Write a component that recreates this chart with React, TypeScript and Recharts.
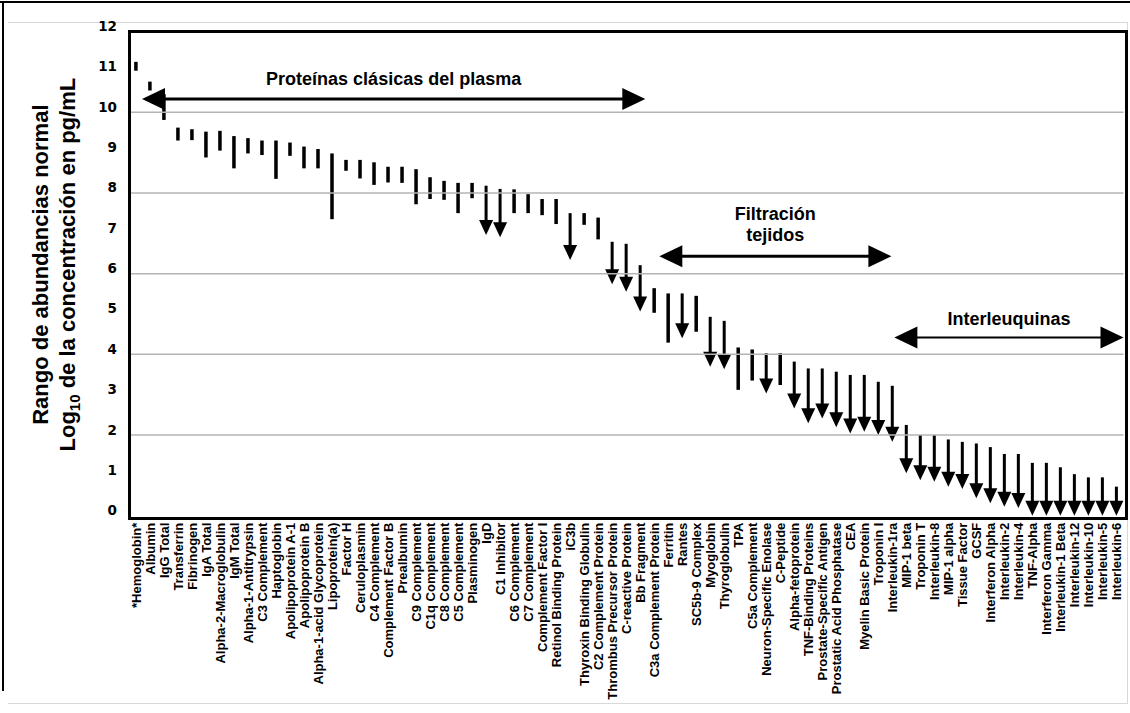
import React from "react";
import { Bar, ComposedChart, ReferenceLine, XAxis, YAxis } from "recharts";

const proteins = [
  "*Hemoglobin*", "Albumin", "IgG Total", "Transferrin", "Fibrinogen", "IgA Total",
  "Alpha-2-Macroglobulin", "IgM Total", "Alpha-1-Antitrypsin", "C3 Complement", "Haptoglobin",
  "Apolipoprotein A-1", "Apolipoprotein B", "Alpha-1-acid Glycoprotein", "Lipoprotein(a)", "Factor H",
  "Ceruloplasmin", "C4 Complement", "Complement Factor B", "Prealbumin", "C9 Complement",
  "C1q Complement", "C8 Complement", "C5 Complement", "Plasminogen", "IgD", "C1 Inhibitor",
  "C6 Complement", "C7 Complement", "Complement Factor I", "Retinol Binding Protein", "iC3b",
  "Thyroxin Binding Globulin", "C2 Complement Protein", "Thrombus Precursor Protein",
  "C-reactive Protein", "Bb Fragment", "C3a Complement Protein", "Ferritin", "Rantes",
  "SC5b-9 Complex", "Myoglobin", "Thyroglobulin", "TPA", "C5a Complement",
  "Neuron-Specific Enolase", "C-Peptide", "Alpha-fetoprotein", "TNF-Binding Proteins",
  "Prostate-Specific Antigen", "Prostatic Acid Phosphatase", "CEA", "Myelin Basic Protein",
  "Troponin I", "Interleukin-1ra", "MIP-1 beta", "Troponin T", "Interleukin-8", "MIP-1 alpha",
  "Tissue Factor", "GCSF", "Interferon Alpha", "Interleukin-2", "Interleukin-4", "TNF-Alpha",
  "Interferon Gamma", "Interleukin-1 Beta", "Interleukin-12", "Interleukin-10", "Interleukin-5",
  "Interleukin-6",
];

// log10 pg/mL, upper end of the normal range
const highs = [
  11.25, 10.76, 10.45, 9.62, 9.58, 9.52, 9.54, 9.41, 9.36, 9.3,
  9.3, 9.25, 9.15, 9.09, 8.98, 8.82, 8.82, 8.76, 8.65, 8.65,
  8.59, 8.39, 8.3, 8.25, 8.25, 8.18, 8.1, 8.09, 7.97, 7.85,
  7.85, 7.5, 7.5, 7.39, 6.79, 6.74, 6.21, 5.64, 5.51, 5.51,
  5.45, 4.93, 4.83, 4.17, 4.12, 4.03, 4.03, 3.82, 3.65, 3.65,
  3.57, 3.49, 3.49, 3.32, 3.22, 2.25, 2.0, 2.0, 1.89, 1.83,
  1.79, 1.7, 1.53, 1.53, 1.31, 1.31, 1.2, 1.03, 0.95, 0.95, 0.72,
];

// lower end (or detection limit when drawn as an arrow)
const lows = [
  11.03, 10.54, 9.81, 9.3, 9.31, 8.88, 9.05, 8.61, 8.98, 8.94,
  8.35, 8.92, 8.61, 8.61, 7.35, 8.55, 8.36, 8.2, 8.26, 8.25,
  7.72, 7.85, 7.83, 7.5, 7.87, 6.96, 6.9, 7.5, 7.5, 7.45,
  7.23, 6.34, 7.21, 6.85, 5.74, 5.55, 5.06, 5.03, 4.29, 4.4,
  4.56, 3.69, 3.63, 3.12, 3.35, 3.03, 3.24, 2.66, 2.29, 2.41,
  2.19, 2.04, 2.08, 2.0, 1.83, 1.05, 0.88, 0.84, 0.72, 0.66,
  0.43, 0.31, 0.22, 0.19, 0, 0, 0, 0, 0, 0, 0,
];

const openEnded = [
  "IgD", "C1 Inhibitor", "iC3b", "Thrombus Precursor Protein", "C-reactive Protein", "Bb Fragment",
  "Rantes", "Myoglobin", "Thyroglobulin", "Neuron-Specific Enolase", "Alpha-fetoprotein",
  "TNF-Binding Proteins", "Prostate-Specific Antigen", "Prostatic Acid Phosphatase", "CEA",
  "Myelin Basic Protein", "Troponin I", "Interleukin-1ra", "MIP-1 beta", "Troponin T",
  "Interleukin-8", "MIP-1 alpha", "Tissue Factor", "GCSF", "Interferon Alpha", "Interleukin-2",
  "Interleukin-4", "TNF-Alpha", "Interferon Gamma", "Interleukin-1 Beta", "Interleukin-12",
  "Interleukin-10", "Interleukin-5", "Interleukin-6",
];

const yTicks = [0, 1, 2, 3, 4, 5, 6, 7, 8, 9, 10, 11, 12];
const gridValues = [2, 4, 6, 8, 10];

// spans in category-index units (bar centres sit on integers)
const groups = [
  { lines: ["Proteínas clásicas del plasma"], from: 0.43, to: 36.36, level: 10.33, offsets: [-14], width: 3 },
  { lines: ["Filtración", "tejidos"], from: 37.36, to: 53.93, level: 6.43, offsets: [-36, -15], width: 3 },
  { lines: ["Interleuquinas"], from: 54.14, to: 70.5, level: 4.42, offsets: [-12], width: 2 },
];

const data = proteins.map((name, i) => ({
  name,
  pos: i,
  range: [lows[i], highs[i]],
  arrow: openEnded.includes(name),
}));

const FONT = "'Liberation Sans', Arial, sans-serif";
const PLOT = { left: 129, top: 31.6, right: 1123.5, bottom: 515.7 };

function RangeMark(props: any) {
  const { x, y, width, height, payload } = props;
  const top = Math.min(y, y + height);
  const h = Math.abs(height);
  const cx = x + width / 2;
  const bottom = top + h;
  if (!payload.arrow) {
    return <rect x={cx - 1.75} y={top} width={3.5} height={h} fill="#000" />;
  }
  const head = 15;
  return (
    <g>
      <rect x={cx - 1.5} y={top} width={3} height={Math.max(0, h - head + 2)} fill="#000" />
      <polygon points={`${cx - 7},${bottom - head} ${cx + 7},${bottom - head} ${cx},${bottom}`} fill="#000" />
    </g>
  );
}

function XTick({ x, y, payload }: any) {
  return (
    <text
      transform={`translate(${x},${y + 7}) rotate(-90)`}
      textAnchor="end"
      dy="0.36em"
      fontSize={13}
      fontWeight="bold"
      fontFamily={FONT}
      fill="#000"
    >
      {payload.value}
    </text>
  );
}

function YTick({ x, y, payload }: any) {
  return (
    <text x={x} y={y} dy={-0.5} textAnchor="end" fontSize={13.5} fontWeight="bold" fontFamily="'DejaVu Sans', Verdana, sans-serif" fill="#000">
      {payload.value}
    </text>
  );
}

function YTitle({ viewBox }: any) {
  const cy = viewBox.y + viewBox.height / 2 - 9;
  const x1 = viewBox.x - 41;
  const x2 = viewBox.x - 14;
  const common = { fontSize: 22, fontWeight: "bold" as const, fontFamily: FONT, fill: "#000", textAnchor: "middle" as const };
  return (
    <g>
      <text {...common} transform={`translate(${x1},${cy}) rotate(-90)`}>Rango de abundancias normal</text>
      <text {...common} transform={`translate(${x2},${cy}) rotate(-90)`}>
        Log<tspan fontSize={15} dy={5}>10</tspan>
        <tspan dy={-5}> de la concentración en pg/mL</tspan>
      </text>
    </g>
  );
}

function groupShape(g: (typeof groups)[number]) {
  return (p: any) => {
    const { x1, y1, x2 } = p;
    const len = 23;
    const half = 11;
    const mid = (x1 + x2) / 2;
    return (
      <g>
        <line x1={x1 + len - 2} y1={y1} x2={x2 - len + 2} y2={y1} stroke="#000" strokeWidth={g.width} />
        <polygon points={`${x1},${y1} ${x1 + len},${y1 - half} ${x1 + len},${y1 + half}`} fill="#000" />
        <polygon points={`${x2},${y1} ${x2 - len},${y1 - half} ${x2 - len},${y1 + half}`} fill="#000" />
        {g.lines.map((t, i) => (
          <text key={t} x={mid} y={y1 + g.offsets[i]} textAnchor="middle" fontSize={18} fontWeight="bold" fontFamily={FONT} fill="#000">
            {t}
          </text>
        ))}
      </g>
    );
  };
}

export default function App() {
  return (
    <div style={{ position: "absolute", left: 0, top: 0, width: 1130, height: 713, background: "#fff" }}>
      <div style={{ position: "absolute", left: 0, top: 1, width: 1130, borderTop: "2px solid #000" }} />
      <div style={{ position: "absolute", left: 2, top: 1, height: 690, borderLeft: "2px solid #000" }} />
      <div style={{ position: "absolute", left: 8, top: 22, width: 1119, height: 680, border: "1px solid #d8d8d8", borderLeft: "none" }} />
      <div style={{ position: "absolute", left: 0, top: 0 }}>
        <ComposedChart
          width={1130}
          height={713}
          data={data}
          margin={{ top: PLOT.top, right: 1130 - PLOT.right, bottom: 7.3, left: PLOT.left - 40 }}
        >
          {gridValues.map((v) => (
            <ReferenceLine key={v} xAxisId="cat" y={v} stroke="#b4b4b4" strokeWidth={1.5} />
          ))}
          <XAxis
            xAxisId="cat"
            dataKey="name"
            interval={0}
            height={190}
            tick={<XTick />}
            tickLine={false}
            axisLine={false}
            tickSize={0}
            tickMargin={0}
          />
          <XAxis xAxisId="num" type="number" dataKey="pos" domain={[-0.5, 70.5]} allowDataOverflow hide />
          <YAxis
            domain={[0, 12]}
            ticks={yTicks}
            interval={0}
            width={40}
            tick={<YTick />}
            tickLine={false}
            axisLine={false}
            tickSize={0}
            tickMargin={12}
            label={{ content: <YTitle /> }}
          />
          <Bar xAxisId="cat" dataKey="range" shape={RangeMark} isAnimationActive={false} />
          {groups.map((g) => (
            <ReferenceLine
              key={g.lines[0]}
              xAxisId="num"
              segment={[{ x: g.from, y: g.level }, { x: g.to, y: g.level }]}
              ifOverflow="visible"
              shape={groupShape(g)}
            />
          ))}
        </ComposedChart>
      </div>
      <div
        style={{
          position: "absolute",
          left: PLOT.left - 1.5,
          top: PLOT.top - 1.5,
          width: PLOT.right - PLOT.left,
          height: PLOT.bottom - PLOT.top,
          border: "3px solid #000",
          pointerEvents: "none",
        }}
      />
    </div>
  );
}
